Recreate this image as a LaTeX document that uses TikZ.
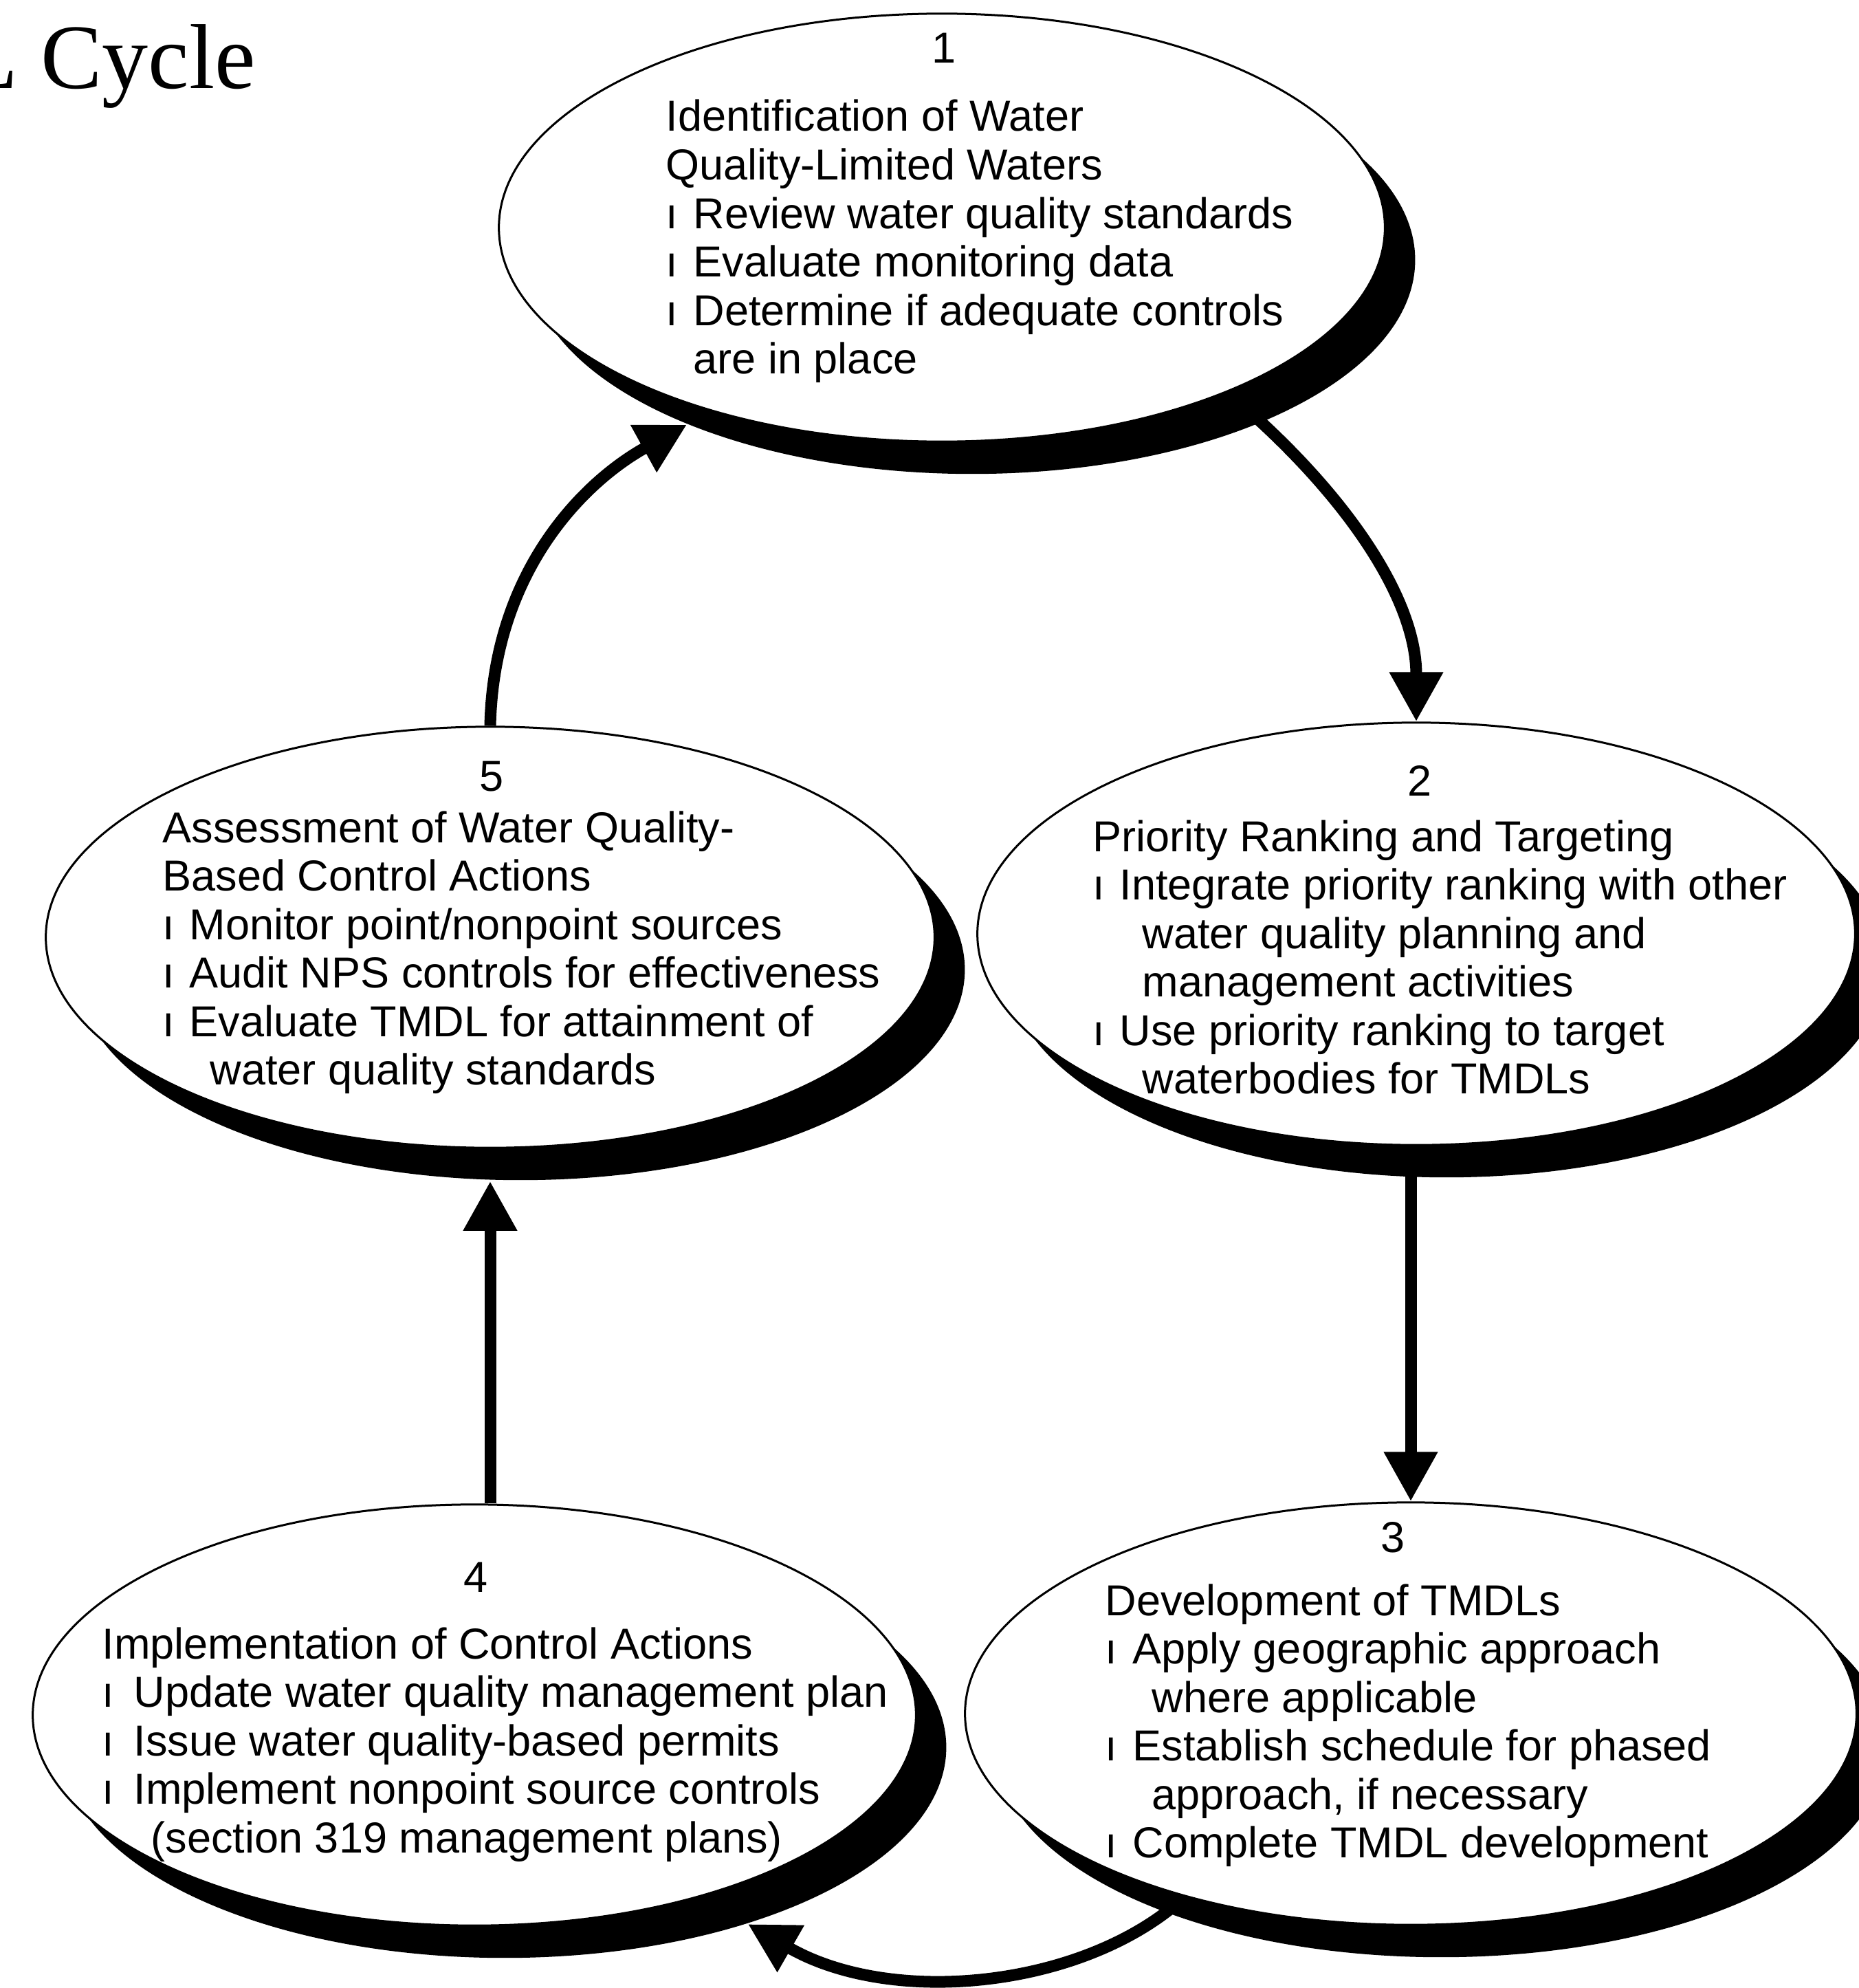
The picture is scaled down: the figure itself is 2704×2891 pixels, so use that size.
\documentclass[tikz,border=0pt]{standalone}
\usepackage{fontspec}
\setmainfont{Liberation Sans}
\newfontfamily\titlefont{Liberation Serif}
\usetikzlibrary{shapes.geometric,shadows,arrows.meta,backgrounds}
\newcommand\ellblock[1]{\vtop{\baselineskip=20.06pt\lineskiplimit=-\maxdimen\lineskip=0pt #1}}
\newcommand\blt[1][0.4cm]{\makebox[#1][l]{ı}}
\tikzset{
  ell/.style={ellipse, draw, line width=0.03cm, fill=white, inner sep=0pt,
    drop shadow={shadow xshift=0.44cm, shadow yshift=-0.47cm, fill=black, opacity=1}},
  txt/.style={inner sep=0pt, font=\fontsize{17.93}{20.06}\selectfont},
  conn/.style={line width=0.17cm, -{Triangle[length=0.72cm, width=0.74cm]}}
}
\begin{document}
\begin{tikzpicture}[x=0.01cm,y=-0.01cm]
\useasboundingbox (0,0) rectangle (2704,2891);
\clip (0,0) rectangle (2704,2891);

\node[anchor=base west, inner sep=0pt, font=\titlefont\fontsize{38.1}{40}\selectfont] (title) at (-56.7,129) {L Cycle};

\node[ell, minimum width=12.88cm, minimum height=6.22cm] (e1) at (1370,331) {};
\node[ell, minimum width=12.76cm, minimum height=6.14cm] (e2) at (2060,1358) {};
\node[ell, minimum width=12.96cm, minimum height=6.14cm] (e3) at (2052,2492) {};
\node[ell, minimum width=12.84cm, minimum height=6.12cm] (e4) at (690,2494) {};
\node[ell, minimum width=12.92cm, minimum height=6.12cm] (e5) at (713,1363) {};

% ellipse 1
\node[txt, anchor=base] (n1) at (1373,92) {1};
\node[txt, anchor=base west] (t1) at (968,191) {\ellblock{%
\hbox{Identification of Water}%
\hbox{Quality-Limited Waters}%
\hbox{\blt Review water quality standards}%
\hbox{\blt Evaluate monitoring data}%
\hbox{\blt Determine if adequate controls}%
\hbox{\kern0.4cm are in place}}};

% ellipse 2
\node[txt, anchor=base] (n2) at (2065,1157) {2};
\node[txt, anchor=base west] (t2) at (1589,1238) {\ellblock{%
\hbox{Priority Ranking and Targeting}%
\hbox{\blt[0.39cm]Integrate priority ranking with other}%
\hbox{\kern0.72cm water quality planning and}%
\hbox{\kern0.72cm management activities}%
\hbox{\blt[0.39cm]Use priority ranking to target}%
\hbox{\kern0.72cm waterbodies for TMDLs}}};

% ellipse 3
\node[txt, anchor=base] (n3) at (2026,2257) {3};
\node[txt, anchor=base west] (t3) at (1607,2349) {\ellblock{%
\hbox{Development of TMDLs}%
\hbox{\blt Apply geographic approach}%
\hbox{\kern0.68cm where applicable}%
\hbox{\blt Establish schedule for phased}%
\hbox{\kern0.68cm approach, if necessary}%
\hbox{\blt Complete TMDL development}}};

% ellipse 4
\node[txt, anchor=base] (n4) at (692,2315) {4};
\node[txt, anchor=base west] (t4) at (148,2412) {\ellblock{%
\hbox{Implementation of Control Actions}%
\hbox{\blt[0.46cm]Update water quality management plan}%
\hbox{\blt[0.46cm]Issue water quality-based permits}%
\hbox{\blt[0.46cm]Implement nonpoint source controls}%
\hbox{\kern0.71cm (section 319 management plans)}}};

% ellipse 5
\node[txt, anchor=base] (n5) at (715,1150) {5};
\node[txt, anchor=base west] (t5) at (236,1225) {\ellblock{%
\hbox{Assessment of Water Quality-}%
\hbox{Based Control Actions}%
\hbox{\blt[0.39cm]Monitor point/nonpoint sources}%
\hbox{\blt[0.39cm]Audit NPS controls for effectiveness}%
\hbox{\blt[0.39cm]Evaluate TMDL for attainment of}%
\hbox{\kern0.69cm water quality standards}}};

\begin{pgfonlayer}{background}
\fill[white] (0,0) rectangle (2704,2891);
\draw[conn] (e1.-30) .. controls (1940,700) and (2060,860) .. (e2.north);
\draw[conn] (e3.north |- e2.south) -- (e3.north);
\draw[conn] (e3.219) .. controls (1580,2890) and (1300,2920) .. ([xshift=0.44cm,yshift=-0.47cm]e4.-36);
\draw[conn] (e4.north -| e5.south) -- ([yshift=-0.47cm]e5.south);
\draw[conn] (e5.north) .. controls (718,830) and (850,700) .. ([xshift=0.44cm,yshift=-0.47cm]e1.210);
\end{pgfonlayer}
\end{tikzpicture}
\end{document}
